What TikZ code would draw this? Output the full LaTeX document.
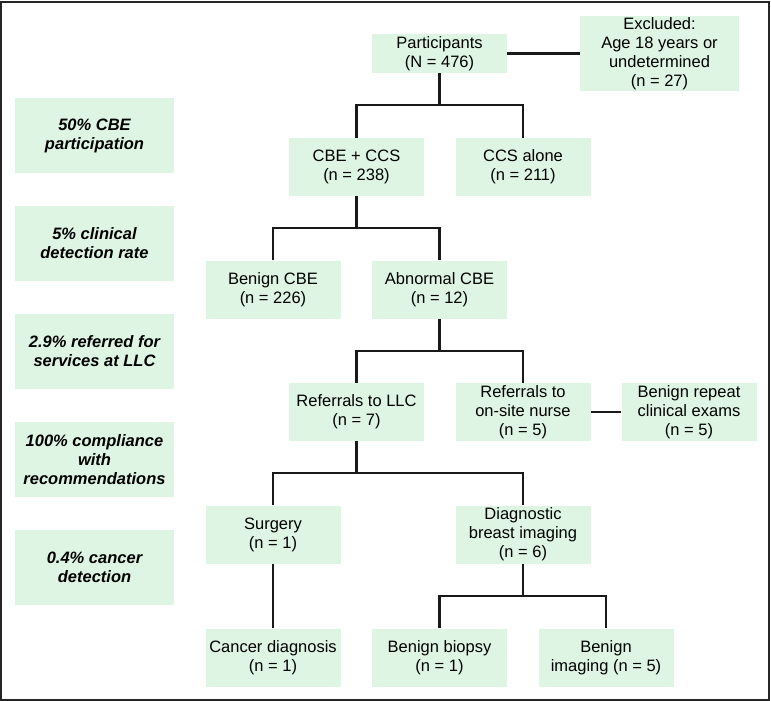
\documentclass[tikz,border=0pt]{standalone}
\usepackage{fontspec}
\setmainfont{Liberation Sans}
\usepackage{tikz}
\usetikzlibrary{positioning}
\usepackage{xcolor}
\definecolor{boxgreen}{RGB}{223,245,228}

\begin{document}
\begin{tikzpicture}[x=1pt, y=-1pt,
                  box/.style={fill=boxgreen, inner sep=0pt, align=center,
                              font=\fontsize{16.5}{19}\selectfont,
                              minimum width=135pt, minimum height=58pt},
                  stat/.style={box, minimum width=159pt, minimum height=75pt,
                              font=\fontsize{16.5}{19}\selectfont\bfseries\itshape},
                  link/.style={draw=black!90, line width=2.2pt},
                  frame/.style={draw=black!85, line width=1.4pt},
            ]
            \useasboundingbox (0,0) rectangle (771,701);
            \draw[frame] (1,2) rectangle (769,700);

            % flow boxes
            \node[box, minimum height=39pt] (part) at (439.5,53.5) {Participants\\(N = 476)};
            \node[box, minimum width=159pt, minimum height=75pt] (excl) at (659.5,53.5)
                  {Excluded:\\Age 18 years or\\undetermined\\(n = 27)};
            \node[box] (cbe) at (356.5,167) {CBE + CCS\\(n = 238)};
            \node[box] (ccs) at (523,167) {CCS alone\\(n = 211)};
            \node[box] (benign) at (273,289.5) {Benign CBE\\(n = 226)};
            \node[box] (abn) at (439.5,289.5) {Abnormal CBE\\(n = 12)};
            \node[box] (llc) at (356.5,412) {Referrals to LLC\\(n = 7)};
            \node[box] (nurse) at (523,412) {Referrals to\\on-site nurse\\(n = 5)};
            \node[box] (repeat) at (689,412) {Benign repeat\\clinical exams\\(n = 5)};
            \node[box] (surg) at (273,534.5) {Surgery\\(n = 1)};
            \node[box] (diag) at (523,534.5) {Diagnostic\\breast imaging\\(n = 6)};
            \node[box] (cancer) at (273,657.5) {Cancer diagnosis\\(n = 1)};
            \node[box] (biopsy) at (439.5,657.5) {Benign biopsy\\(n = 1)};
            \node[box] (bimg) at (606,657.5) {Benign\\imaging (n = 5)};

            % rates on the left
            \node[stat] (s1) at (94.5,135.5) {50\% CBE\\participation};
            \node[stat] (s2) at (94.5,243.5) {5\% clinical\\detection rate};
            \node[stat] (s3) at (94.5,351) {2.9\% referred for\\services at LLC};
            \node[stat] (s4) at (94.5,459.5) {100\% compliance\\with\\recommendations};
            \node[stat] (s5) at (94.5,567) {0.4\% cancer\\detection};

            % connectors
            \draw[link] (part) -- (excl);
            \draw[link] (nurse) -- (repeat);
            \draw[link] (part.south) -- ++(0,32) coordinate (j1);
            \draw[link] (cbe.north) |- (j1) -| (ccs.north);
            \draw[link] (cbe.south) -- ++(0,32) coordinate (j2);
            \draw[link] (benign.north) |- (j2) -| (abn.north);
            \draw[link] (abn.south) -- ++(0,32) coordinate (j3);
            \draw[link] (llc.north) |- (j3) -| (nurse.north);
            \draw[link] (llc.south) -- ++(0,32) coordinate (j4);
            \draw[link] (surg.north) |- (j4) -| (diag.north);
            \draw[link] (surg) -- (cancer);
            \draw[link] (diag.south) -- ++(0,32) coordinate (j5);
            \draw[link] (biopsy.north) |- (j5) -| (bimg.north);
      \end{tikzpicture}
\end{document}
